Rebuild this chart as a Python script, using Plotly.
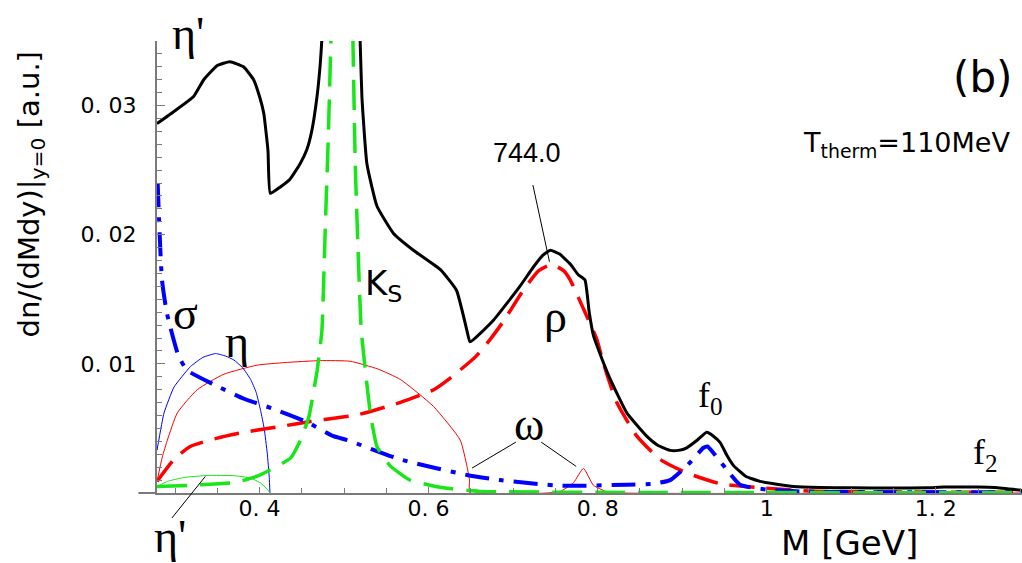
import plotly.graph_objects as go

# ---------------- axis ranges ----------------
X0, X1 = 0.2787, 1.302
Y0, Y1 = 0.0, 0.035

# ---------------- data ----------------
total_m = [0.2787, 0.300, 0.322, 0.334, 0.350, 0.365, 0.381, 0.393, 0.400, 0.405, 0.410, 0.4127,
           0.4246, 0.436, 0.448, 0.456, 0.462, 0.468, 0.4718, 0.4738, 0.480, 0.4976, 0.513, 0.519,
           0.5211, 0.527, 0.539, 0.5585, 0.582, 0.614, 0.633, 0.6453, 0.649, 0.677, 0.708, 0.724,
           0.735, 0.744, 0.755, 0.768, 0.777, 0.785, 0.790, 0.795, 0.805, 0.815, 0.8345, 0.858,
           0.871, 0.886, 0.8955, 0.9055, 0.918, 0.929, 0.937, 0.945, 0.953, 0.961, 0.975, 0.992,
           1.010, 1.032, 1.063, 1.100, 1.150, 1.190, 1.210, 1.250, 1.270, 1.302]
total_v = [0.0286, 0.0296, 0.0307, 0.0320, 0.0331, 0.0334, 0.0330, 0.0320, 0.0307, 0.0294, 0.0265, 0.0232,
           0.0237, 0.0243, 0.0255, 0.0266, 0.0281, 0.0307, 0.0332, 0.0352, 0.045, 0.090, 0.045, 0.0350,
           0.0307, 0.0255, 0.0222, 0.0201, 0.0188, 0.0173, 0.0157, 0.0126, 0.0117, 0.0134, 0.0160, 0.0175,
           0.0184, 0.0188, 0.0185, 0.0177, 0.0169, 0.0165, 0.0140, 0.0122, 0.0104, 0.0088, 0.0062, 0.0044,
           0.0037, 0.0033, 0.0033, 0.0035, 0.0041, 0.0047, 0.0044, 0.0039, 0.0029, 0.0021, 0.0013, 0.0009,
           0.0007, 0.0005, 0.00043, 0.0004, 0.00038, 0.0004, 0.00046, 0.00046, 0.00042, 0.0002]

rho_m = [0.2787, 0.2988, 0.318, 0.350, 0.3815, 0.425, 0.460, 0.5155, 0.566, 0.606, 0.6256, 0.6557,
         0.6729, 0.6886, 0.712, 0.730, 0.7458, 0.760, 0.7675, 0.787, 0.799, 0.807, 0.8227, 0.8464,
         0.874, 0.9055, 0.945, 0.992, 1.051, 1.100, 1.302]
rho_v = [0.0009, 0.0026, 0.0036, 0.00425, 0.0047, 0.00515, 0.00554, 0.00605, 0.0070, 0.0080, 0.0089, 0.01056,
         0.0119, 0.0133, 0.0157, 0.0172, 0.0177, 0.0172, 0.0165, 0.0137, 0.0119, 0.0100, 0.0070, 0.0044,
         0.0026, 0.00155, 0.00072, 0.0004, 0.00015, 0.0001, 0.00005]

sigma_m = [0.2795, 0.2846, 0.2905, 0.3042, 0.3145, 0.346, 0.3815, 0.417, 0.456, 0.4875, 0.5037, 0.5664,
           0.6453, 0.6847, 0.7557, 0.8345, 0.866, 0.8857, 0.9055, 0.9252, 0.930, 0.937, 0.9528, 0.9685,
           1.000, 1.050, 1.302]
sigma_v = [0.0240, 0.0165, 0.0139, 0.0106, 0.0095, 0.0084, 0.0073, 0.0065, 0.0055, 0.0044, 0.0041, 0.0026,
           0.0014, 0.0010, 0.00056, 0.00064, 0.00072, 0.0010, 0.0021, 0.0035, 0.0036, 0.0031, 0.0018, 0.00064,
           0.00026, 0.0001, 0.00005]

ks_m = [0.2787, 0.320, 0.370, 0.397, 0.413, 0.4367, 0.4485, 0.4584, 0.4682, 0.4738, 0.4777, 0.4816,
        0.4844, 0.488, 0.4976, 0.507, 0.5105, 0.5132, 0.5171, 0.5203, 0.531, 0.5389, 0.5546, 0.578,
        0.6176, 0.6646, 0.800, 1.302]
ks_v = [0.0005, 0.0006, 0.0008, 0.0013, 0.0018, 0.0027, 0.0041, 0.0059, 0.0095, 0.0126, 0.0204, 0.0281,
        0.0350, 0.045, 0.080, 0.045, 0.0350, 0.0255, 0.0178, 0.0126, 0.0062, 0.0036, 0.0021, 0.0010,
        0.0004, 0.00012, 0.00005, 0.00002]

eta_m = [0.2787, 0.287, 0.2988, 0.3184, 0.333, 0.348, 0.360, 0.3697, 0.380, 0.3894, 0.396, 0.4012,
         0.4055, 0.4091, 0.4115, 0.4123]
eta_v = [0.0033, 0.0062, 0.0082, 0.0098, 0.0105, 0.0108, 0.0106, 0.0103, 0.0097, 0.0088, 0.0078, 0.0064,
         0.0050, 0.0031, 0.0012, 0.0]

omega_m = [0.2787, 0.285, 0.291, 0.3027, 0.3263, 0.3579, 0.3973, 0.430, 0.4718, 0.5073, 0.540, 0.5664,
           0.6058, 0.6374, 0.6453, 0.6484, 0.649, 0.740, 0.7557, 0.7714, 0.7832, 0.795, 0.8108, 0.830, 1.302]
omega_v = [0.0009, 0.0028, 0.0041, 0.0062, 0.0080, 0.0092, 0.0099, 0.0101, 0.01025, 0.0102, 0.0096, 0.0088,
           0.0067, 0.0041, 0.0021, 0.0010, 0.0, 0.0, 0.00012, 0.0008, 0.0019, 0.0006, 0.0001, 0.0, 0.0]

etap_m = [0.2787, 0.291, 0.3106, 0.3382, 0.3697, 0.3894, 0.4012, 0.4091, 0.4123]
etap_v = [0.0005, 0.0009, 0.0012, 0.00136, 0.00134, 0.00116, 0.00077, 0.0003, 0.0]

x_tickvals = [0.4, 0.6, 0.8, 1.0, 1.2]
x_ticktext = ["0. 4", "0. 6", "0. 8", "1", "1. 2"]
y_tickvals = [0.01, 0.02, 0.03]
y_ticktext = ["0. 01", "0. 02", "0. 03"]

# ---------------- styles ----------------
SANS = "DejaVu Sans, Arial, sans-serif"
ARIAL = "Liberation Sans, Arial, sans-serif"
SERIF = "Liberation Serif, Times New Roman, serif"
RED = "#ff0000"
GREEN = "#19e619"
BLUE = "#0000ff"
AXIS = "#7a7a7a"


def to_paper(x, y):
    return (x - X0) / (X1 - X0), (y - Y0) / (Y1 - Y0)


fig = go.Figure()

# thin lines
fig.add_trace(go.Scatter(x=omega_m, y=omega_v, mode="lines",
                         line=dict(color=RED, width=1, shape="spline", smoothing=0.5), hoverinfo="skip"))
fig.add_trace(go.Scatter(x=eta_m, y=eta_v, mode="lines",
                         line=dict(color=BLUE, width=1, shape="spline", smoothing=0.4), hoverinfo="skip"))
fig.add_trace(go.Scatter(x=etap_m, y=etap_v, mode="lines",
                         line=dict(color=GREEN, width=1, shape="spline", smoothing=0.4), hoverinfo="skip"))

# thick dashed lines
fig.add_trace(go.Scatter(x=rho_m, y=rho_v, mode="lines",
                         line=dict(color=RED, width=3.5, dash="25px,12px", shape="spline", smoothing=0.5), hoverinfo="skip"))
fig.add_trace(go.Scatter(x=sigma_m, y=sigma_v, mode="lines",
                         line=dict(color=BLUE, width=4, dash="24px,10px,5px,10px", shape="spline", smoothing=0.5), hoverinfo="skip"))
fig.add_trace(go.Scatter(x=ks_m, y=ks_v, mode="lines",
                         line=dict(color=GREEN, width=3.5, dash="30px,13px", shape="spline", smoothing=0.4), hoverinfo="skip"))

# total
fig.add_trace(go.Scatter(x=total_m, y=total_v, mode="lines",
                         line=dict(color="black", width=3, shape="spline", smoothing=0.4), hoverinfo="skip"))

# ---------------- annotations ----------------
ann = []


def label(x, y, text, size, family, ref="data", **kw):
    if ref == "data":
        px, py = to_paper(x, y)
    else:
        px, py = x, y
    ann.append(dict(x=px, y=py, xref="paper", yref="paper", text=text, showarrow=False,
                    font=dict(size=size, family=family, color="black"),
                    xanchor="center", yanchor="middle", **kw))


label(0.3157, 0.0356, "η'", 46, SERIF)
label(0.3121, 0.0139, "σ", 46, SERIF)
label(0.3736, 0.0117, "η", 46, SERIF)
label(0.5462, 0.0161, "K<sub>S</sub>", 34, SANS)
label(0.7497, 0.0137, "ρ", 46, SERIF)
label(0.7166, 0.0263, "744.0", 27, ARIAL)
label(0.7190, 0.0053, "ω", 46, SERIF)
label(0.9330, 0.0074, "f<sub>0</sub>", 36, SERIF)
label(1.2583, 0.0030, "f<sub>2</sub>", 36, SERIF)
label(0.2944, -0.0034, "η'", 46, SERIF)
label(1.2550, 0.0322, "(b)", 42, SANS)
label(1.1650, 0.0270, "T<sub>therm</sub>=110MeV", 27, SANS)
label(0.801, -0.11, "M [GeV]", 34, SANS, ref="paper")
label(-0.146, 0.66, "dn/(dMdy)|<sub>y=0</sub> [a.u.]", 29, SANS, ref="paper", textangle=-90)

# pointer lines
shapes = []


def seg(xa, ya, xb, yb):
    pa = to_paper(xa, ya)
    pb = to_paper(xb, yb)
    shapes.append(dict(type="line", xref="paper", yref="paper", x0=pa[0], y0=pa[1], x1=pb[0], y1=pb[1],
                       line=dict(color="black", width=1)))


seg(0.7234, 0.02384, 0.7430, 0.01791)
seg(0.7033, 0.00394, 0.6514, 0.00193)
seg(0.7332, 0.00394, 0.7746, 0.00206)
seg(0.2964, -0.00193, 0.3358, 0.00128)

# x axis line extending left of the y axis
xl0 = to_paper(X0 - 0.022, 0)
shapes.append(dict(type="line", xref="paper", yref="paper", x0=xl0[0], y0=0, x1=0, y1=0,
                   line=dict(color=AXIS, width=2)))

fig.update_layout(
    width=1022, height=563,
    margin=dict(l=157, r=0, t=41, b=70, pad=0),
    paper_bgcolor="white", plot_bgcolor="white",
    showlegend=False,
    annotations=ann, shapes=shapes,
    xaxis=dict(range=[X0, X1], showgrid=False, zeroline=False, showline=True, linecolor=AXIS, linewidth=2,
               tickvals=x_tickvals, ticktext=x_ticktext, ticks="inside", ticklen=6, tickcolor=AXIS, tickwidth=1,
               tickfont=dict(size=22, family=SANS, color="black"), ticklabelstandoff=-5,
               minor=dict(tick0=0, dtick=0.05, ticks="inside", ticklen=5, tickcolor=AXIS, tickwidth=1)),
    yaxis=dict(range=[Y0, Y1], showgrid=False, zeroline=False, showline=True, linecolor=AXIS, linewidth=2,
               tickvals=y_tickvals, ticktext=y_ticktext, ticks="inside", ticklen=8, tickcolor=AXIS, tickwidth=1,
               tickfont=dict(size=22, family=SANS, color="black"), ticklabelstandoff=14,
               minor=dict(tick0=0, dtick=0.001, ticks="inside", ticklen=5, tickcolor=AXIS, tickwidth=1)),
)

fig.write_html("out.html")
